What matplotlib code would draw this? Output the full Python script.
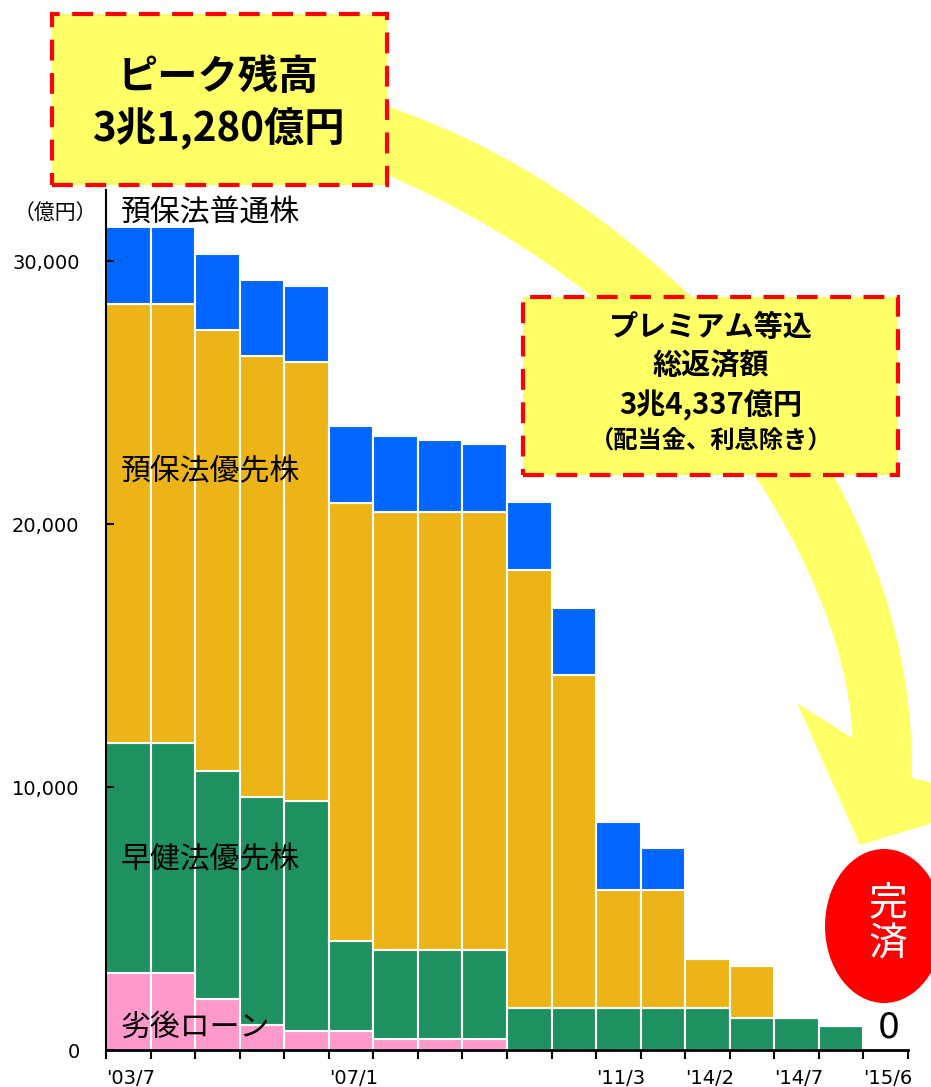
import matplotlib
matplotlib.use("Agg")
import matplotlib.pyplot as plt
from matplotlib.patches import Rectangle, Ellipse, PathPatch
from matplotlib.path import Path
import numpy as np

plt.rcParams['font.family'] = ['Noto Sans CJK JP', 'DejaVu Sans']

W, H = 931, 1087

# 公的資金残高の内訳（億円）、17期分
sub_loan = [2940, 2940, 1950, 950, 720, 720, 430, 430, 430, 0, 0, 0, 0, 0, 0, 0, 0]
early_pref = [8750, 8750, 8670, 8680, 8760, 3440, 3370, 3370, 3370,
              1580, 1580, 1580, 1580, 1580, 1230, 1230, 910]
dic_pref = [16690, 16690, 16750, 16740, 16670, 16640, 16650, 16650, 16650,
            16660, 12670, 4500, 4500, 1890, 1960, 0, 0]
dic_common = [2900, 2900, 2900, 2900, 2900, 2920, 2900, 2760, 2610,
              2600, 2540, 2590, 1590, 0, 0, 0, 0]

date_pos = [0, 5, 11, 13, 15, 17]
date_text = ["'03/7", "'07/1", "'11/3", "'14/2", "'14/7", "'15/6"]
y_ticks = [0, 10000, 20000, 30000]

c_pink = '#FF99CC'
c_green = '#1E9160'
c_orange = '#EDB418'
c_blue = '#0066FF'
c_yellow = '#FFFF66'


def fx(x):
    return x / W


def fy(y):
    return 1 - y / H


fig = plt.figure(figsize=(9.31, 10.87), dpi=100)
ax = fig.add_axes([fx(106), fy(1050), fx(908) - fx(106), fy(190) - fy(1050)])
ax.patch.set_alpha(0)

x = np.arange(len(sub_loan)) + 0.5
bottom = np.zeros(len(sub_loan))
for vals, col in [(sub_loan, c_pink), (early_pref, c_green),
                  (dic_pref, c_orange), (dic_common, c_blue)]:
    ax.bar(x, vals, width=1, bottom=bottom, color=col,
           edgecolor='white', linewidth=1.5)
    bottom += np.array(vals)

ax.set_xlim(0, 18)
ax.set_ylim(0, 32700)
ax.set_yticks(y_ticks)
ax.set_yticklabels([f'{v:,}' for v in y_ticks])
labels = [''] * 19
for p, t in zip(date_pos, date_text):
    labels[p] = t
ax.set_xticks(range(19))
ax.set_xticklabels(labels, ha='left', family='DejaVu Sans')
ax.tick_params(axis='y', direction='in', length=6, width=1.5, pad=19, labelsize=14)
ax.tick_params(axis='x', direction='out', length=6.5, width=1.5, pad=7, labelsize=14)
for lab in ax.get_yticklabels():
    lab.set_family('DejaVu Sans')
ax.spines['top'].set_visible(False)
ax.spines['right'].set_visible(False)
ax.spines['left'].set_linewidth(1.5)
ax.spines['bottom'].set_linewidth(2)

# 系列名
fig.text(fx(55), fy(213), '（億円）', fontsize=15, ha='center', va='center')
for txt, yy in [('預保法普通株', 213), ('預保法優先株', 472),
                ('早健法優先株', 860), ('劣後ローン', 1027)]:
    fig.text(fx(121), fy(yy), txt, fontsize=21.5, ha='left', va='center')

# 大きな曲がり矢印
verts = [(380, 104), (520, 150), (620, 230), (687, 293),
         (790, 380), (915, 560), (912, 778),
         (1008, 800), (860, 845), (797, 703), (852, 738),
         (850, 600), (730, 400), (590, 295),
         (540, 255), (460, 205), (380, 172), (380, 104)]
codes = [Path.MOVETO, Path.CURVE4, Path.CURVE4, Path.CURVE4,
         Path.CURVE4, Path.CURVE4, Path.CURVE4,
         Path.LINETO, Path.LINETO, Path.LINETO, Path.LINETO,
         Path.CURVE4, Path.CURVE4, Path.CURVE4,
         Path.CURVE4, Path.CURVE4, Path.CURVE4, Path.CLOSEPOLY]
arrow = PathPatch(Path([(fx(a), fy(b)) for a, b in verts], codes),
                  transform=fig.transFigure, facecolor=c_yellow,
                  edgecolor='none', zorder=1)
fig.add_artist(arrow)

# 注記ボックス
for x0, y0, x1, y1 in [(52, 14, 387, 185), (523, 297, 898, 475)]:
    box = Rectangle((fx(x0), fy(y1)), fx(x1) - fx(x0), fy(y0) - fy(y1),
                    transform=fig.transFigure, facecolor=c_yellow,
                    edgecolor='#FF0000', linewidth=3,
                    linestyle=(0, (5, 3)), zorder=2)
    fig.add_artist(box)

fig.text(fx(218), fy(77), 'ピーク残高', fontsize=29, fontweight='bold',
         ha='center', va='center', zorder=3)
fig.text(fx(218), fy(128), '3兆1,280億円', fontsize=29, fontweight='bold',
         ha='center', va='center', zorder=3)
for txt, yy, fs in [('プレミアム等込', 327, 21), ('総返済額', 366, 21),
                    ('3兆4,337億円', 405, 21), ('（配当金、利息除き）', 441, 17.5)]:
    fig.text(fx(711), fy(yy), txt, fontsize=fs, fontweight='bold',
             ha='center', va='center', zorder=3)

# 完済マーク
ell = Ellipse((fx(884), fy(926)), 118 / W, 154 / H, transform=fig.transFigure,
              facecolor='#FF0000', edgecolor='none', zorder=2)
fig.add_artist(ell)
fig.text(fx(888), fy(903), '完', fontsize=28, color='white',
         ha='center', va='center', zorder=3)
fig.text(fx(888), fy(945), '済', fontsize=28, color='white',
         ha='center', va='center', zorder=3)
fig.text(fx(889), fy(1027), '0', fontsize=25, ha='center', va='center',
         family='DejaVu Sans', zorder=3)

fig.savefig('out.png', dpi=100)
